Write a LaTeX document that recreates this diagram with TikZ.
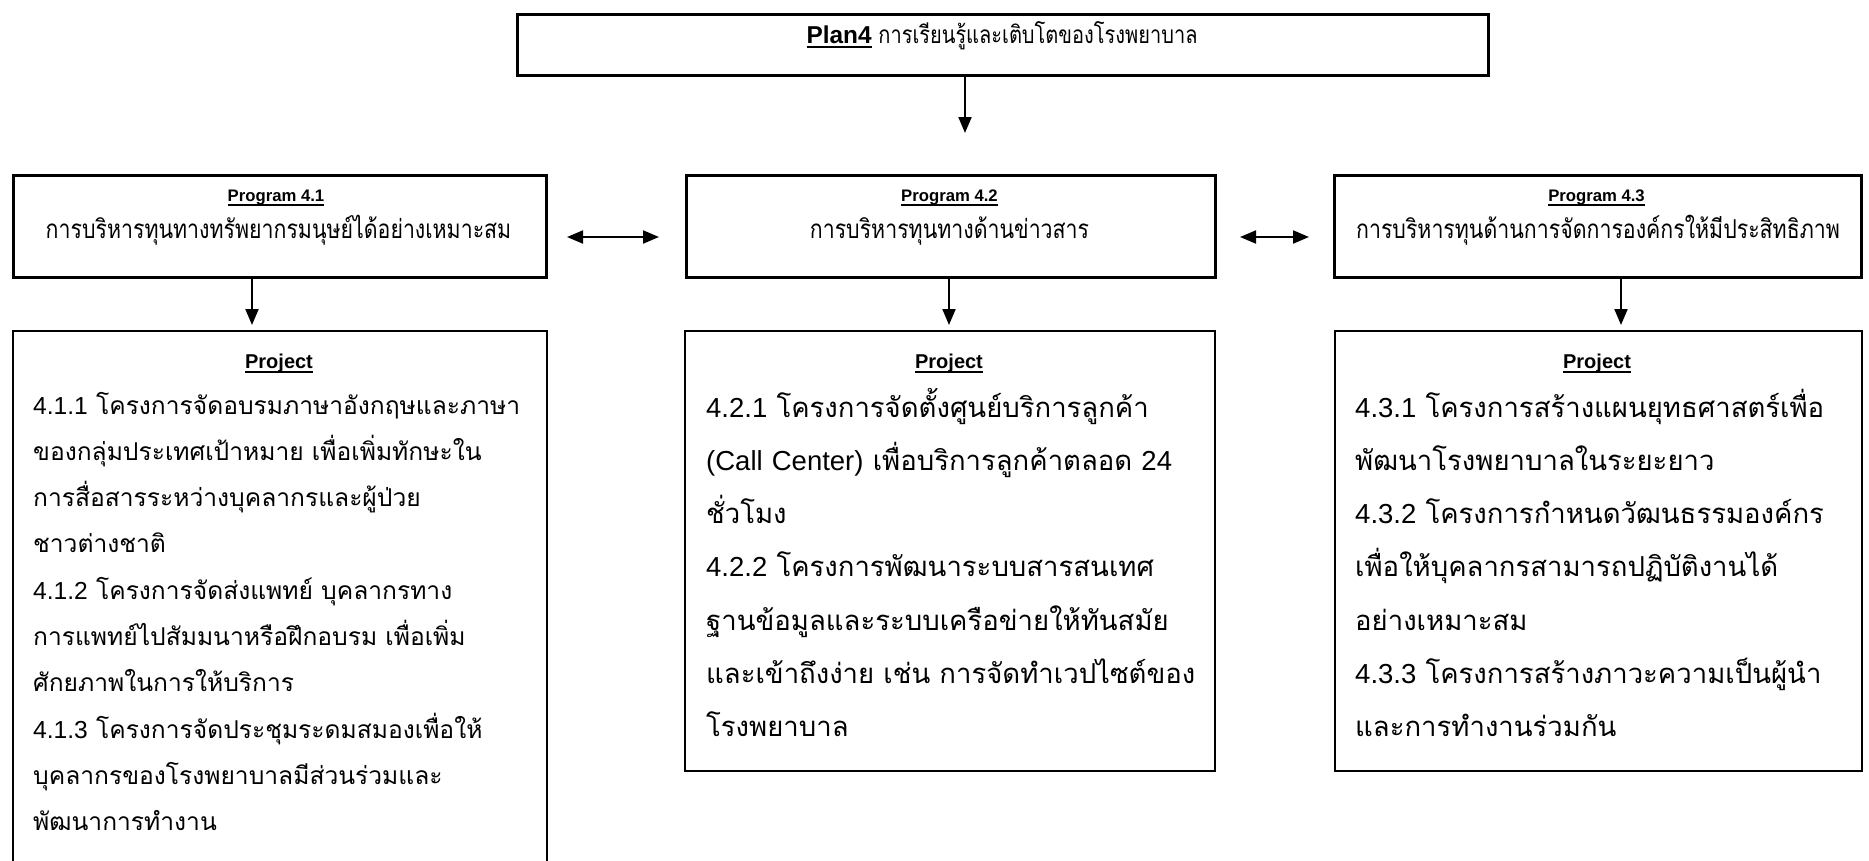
\documentclass[tikz,border=0pt]{standalone}
\usepackage{fontspec}
\usetikzlibrary{arrows.meta}
\setmainfont{Liberation Sans}
\newfontfamily\thaifont[Script=Thai]{Loma}
\newfontfamily\thainarrow[Script=Thai,FakeStretch=0.82]{Loma}
\newcommand\T[1]{{\thaifont #1}}
\newcommand\TN[1]{{\thainarrow #1}}
% bold text with a firm underline
\newcommand\ul[1]{\setbox0\hbox{\textbf{#1}}\rlap{\rule[-4.6pt]{\wd0}{2pt}}\box0\relax}

\tikzset{
  frame/.style={draw, inner sep=0pt, anchor=north west},
  arr/.style={line width=2pt, -{Triangle[length=16pt,width=13pt]}},
  darr/.style={line width=2pt, {Triangle[length=16pt,width=13pt]}-{Triangle[length=16pt,width=13pt]}},
  title/.style={anchor=base, inner sep=0pt, font=\fontsize{16.7}{20}\selectfont},
  ptitle/.style={anchor=base, inner sep=0pt, font=\fontsize{20}{24}\selectfont},
  sub/.style={anchor=base, inner sep=0pt, font=\fontsize{26}{30}\selectfont},
  projA/.style={anchor=base west, inner sep=0pt, text width=525pt, align=left},
}

\begin{document}
\begin{tikzpicture}[x=1pt,y=-1pt]
\useasboundingbox (0,0) rectangle (1869,860);

% plan box
\node[frame, line width=2.8pt, minimum width=971pt, minimum height=61pt] (plan) at (516,13) {};
\node[anchor=base, inner sep=0pt, font=\fontsize{24.4}{28}\selectfont] (plantxt) at (1002,43)
  {\ul{Plan4} \TN{การเรียนรู้และเติบโตของโรงพยาบาล}};
\coordinate (planend) at (965,133);
\draw[arr] (plan.south -| planend) -- (planend);

% programs
\node[frame, line width=2.6pt, minimum width=533pt, minimum height=102pt] (p1) at (12,174) {};
\node[frame, line width=2.6pt, minimum width=529pt, minimum height=102pt] (p2) at (685,174) {};
\node[frame, line width=2.6pt, minimum width=527pt, minimum height=102pt] (p3) at (1333,174) {};

\node[title] (p1t) at (276,201) {\ul{Program 4.1}};
\node[title] (p2t) at (949.5,201) {\ul{Program 4.2}};
\node[title] (p3t) at (1596.5,201) {\ul{Program 4.3}};

\node[sub] (p1s) at (278.5,238) {\TN{การบริหารทุนทางทรัพยากรมนุษย์ได้อย่างเหมาะสม}};
\node[sub] (p2s) at (949.5,238) {\TN{การบริหารทุนทางด้านข่าวสาร}};
\node[sub] (p3s) at (1598,238) {\TN{การบริหารทุนด้านการจัดการองค์กรให้มีประสิทธิภาพ}};

\coordinate (d1a) at (567,237); \coordinate (d1b) at (659,237);
\coordinate (d2a) at (1240,237); \coordinate (d2b) at (1309,237);
\draw[darr] (d1a) -- (d1b);
\draw[darr] (d2a) -- (d2b);

% projects
\node[frame, line width=2pt, minimum width=534pt, minimum height=560pt] (j1) at (12,330) {};
\node[frame, line width=2pt, minimum width=530pt, minimum height=440pt] (j2) at (684,330) {};
\node[frame, line width=2pt, minimum width=527pt, minimum height=440pt] (j3) at (1334,330) {};

\draw[arr] (p1.south -| 252,0) -- ([yshift=5pt]j1.north -| 252,0);
\draw[arr] (p2.south -| 949,0) -- ([yshift=5pt]j2.north -| 949,0);
\draw[arr] (p3.south -| 1621,0) -- ([yshift=5pt]j3.north -| 1621,0);

\node[ptitle] (j1t) at (279,368) {\ul{Project}};
\node[ptitle] (j2t) at (949,368) {\ul{Project}};
\node[ptitle] (j3t) at (1597,368) {\ul{Project}};

\node[projA, font=\fontsize{24.6}{46.3}\selectfont] (j1x) at (33,414) {%
4.1.1 \T{โครงการจัดอบรมภาษาอังกฤษและภาษา}\\
\T{ของกลุ่มประเทศเป้าหมาย เพื่อเพิ่มทักษะใน}\\
\T{การสื่อสารระหว่างบุคลากรและผู้ป่วย}\\
\T{ชาวต่างชาติ}\\
4.1.2 \T{โครงการจัดส่งแพทย์ บุคลากรทาง}\\
\T{การแพทย์ไปสัมมนาหรือฝึกอบรม เพื่อเพิ่ม}\\
\T{ศักยภาพในการให้บริการ}\\
4.1.3 \T{โครงการจัดประชุมระดมสมองเพื่อให้}\\
\T{บุคลากรของโรงพยาบาลมีส่วนร่วมและ}\\
\T{พัฒนาการทำงาน}};

\node[projA, font=\fontsize{27.5}{53.3}\selectfont] (j2x) at (706,417) {%
4.2.1 \T{โครงการจัดตั้งศูนย์บริการลูกค้า}\\
(Call Center) \T{เพื่อบริการลูกค้าตลอด} 24\\
\T{ชั่วโมง}\\
4.2.2 \T{โครงการพัฒนาระบบสารสนเทศ}\\
\T{ฐานข้อมูลและระบบเครือข่ายให้ทันสมัย}\\
\T{และเข้าถึงง่าย เช่น การจัดทำเวปไซต์ของ}\\
\T{โรงพยาบาล}};

\node[projA, font=\fontsize{27.5}{53.3}\selectfont] (j3x) at (1355,417) {%
4.3.1 \T{โครงการสร้างแผนยุทธศาสตร์เพื่อ}\\
\T{พัฒนาโรงพยาบาลในระยะยาว}\\
4.3.2 \T{โครงการกำหนดวัฒนธรรมองค์กร}\\
\T{เพื่อให้บุคลากรสามารถปฏิบัติงานได้}\\
\T{อย่างเหมาะสม}\\
4.3.3 \T{โครงการสร้างภาวะความเป็นผู้นำ}\\
\T{และการทำงานร่วมกัน}};
\end{tikzpicture}
\end{document}
